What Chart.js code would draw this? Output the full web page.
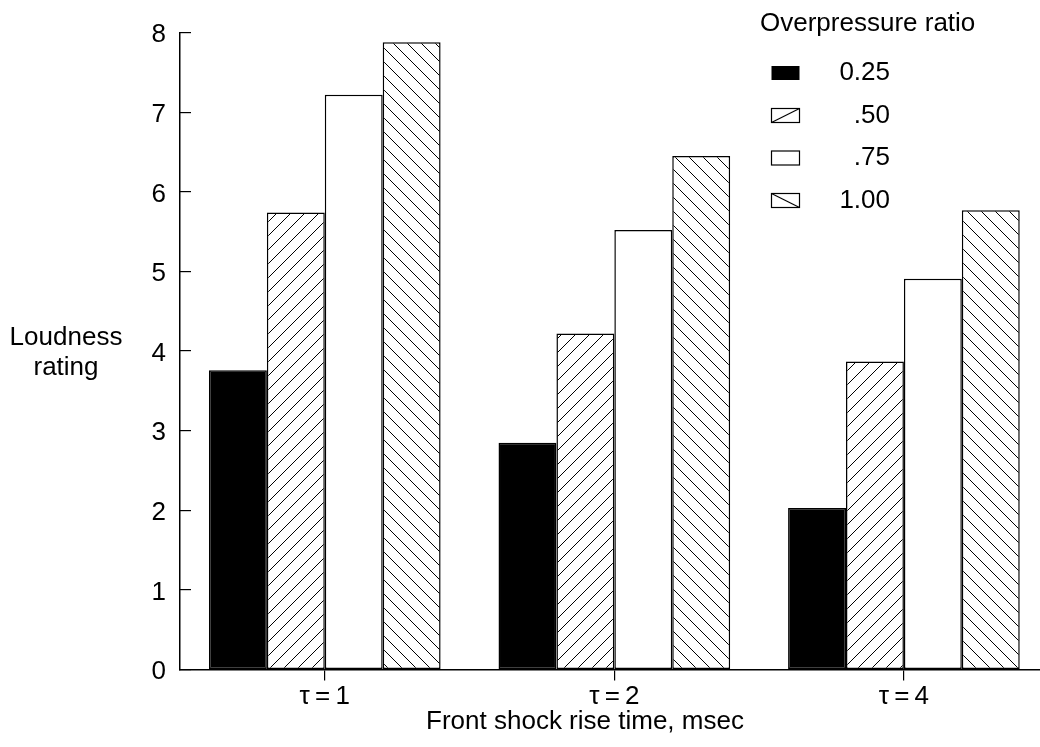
<!DOCTYPE html>
<html>
<head>
<meta charset="utf-8">
<script src="https://cdn.jsdelivr.net/npm/chart.js@4.4.1/dist/chart.umd.min.js"></script>
<style>
  html, body { margin: 0; padding: 0; background: #fff; overflow: hidden; }
  #chart { display: block; }
</style>
</head>
<body>
<canvas id="chart" width="1040" height="747"></canvas>
<script>
// data
const categories = ["τ = 1", "τ = 2", "τ = 4"];
const ratioLabels = ["0.25", ".50", ".75", "1.00"];
const ratio025 = [3.76, 2.85, 2.03];
const ratio050 = [5.74, 4.22, 3.87];
const ratio075 = [7.22, 5.52, 4.91];
const ratio100 = [7.88, 6.45, 5.77];
const yTicks = [0, 1, 2, 3, 4, 5, 6, 7, 8];
const yTitle = ["Loudness", "rating"];
const xTitle = "Front shock rise time, msec";
const legendTitle = "Overpressure ratio";

const FONT = "'Liberation Sans', Arial, Helvetica, sans-serif";
const FSIZE = 26;

function hatch(dir) {
    const s = 14;
    const c = document.createElement('canvas');
    c.width = s; c.height = s;
    const g = c.getContext('2d');
    g.fillStyle = '#fff';
    g.fillRect(0, 0, s, s);
    g.strokeStyle = '#000';
    g.lineWidth = 1;
    g.beginPath();
    for (let k = -1; k <= 1; k++) {
        if (dir === '/') { g.moveTo(k * s, s); g.lineTo(k * s + s, 0); }
        else { g.moveTo(k * s, 0); g.lineTo(k * s + s, s); }
    }
    g.stroke();
    return g.createPattern(c, 'repeat');
}

const fills = ['#000', hatch('/'), '#fff', hatch('\\')];
const marks = ['solid', '/', 'empty', '\\'];
const series = [ratio025, ratio050, ratio075, ratio100];

const datasets = series.map((vals, i) => ({
    label: ratioLabels[i],
    data: vals.map((v, j) => ({ x: j + 1, y: v })),
    backgroundColor: fills[i],
    borderColor: '#000',
    borderWidth: 1.5,
    borderSkipped: false,
    categoryPercentage: 0.8,
    barPercentage: 1.0
}));

// legend drawn over the plot, top right
const ratioLegend = {
    id: 'ratioLegend',
    afterDraw(chart) {
        const ctx = chart.ctx;
        ctx.save();
        ctx.fillStyle = '#000';
        ctx.font = `${FSIZE}px ${FONT}`;
        ctx.textBaseline = 'middle';
        ctx.textAlign = 'left';
        ctx.fillText(legendTitle, 760, 24);

        chart.data.datasets.forEach((ds, i) => {
            const cy = 73 + i * 42.5;
            const bx = 771.5, bw = 28, bh = 14, by = cy - bh / 2;
            ctx.lineWidth = 1.2;
            ctx.strokeStyle = '#000';
            if (marks[i] === 'solid') {
                ctx.fillRect(bx, by, bw, bh);
            } else {
                ctx.strokeRect(bx, by, bw, bh);
                if (marks[i] !== 'empty') {
                    ctx.beginPath();
                    if (marks[i] === '/') { ctx.moveTo(bx, by + bh); ctx.lineTo(bx + bw, by); }
                    else { ctx.moveTo(bx, by); ctx.lineTo(bx + bw, by + bh); }
                    ctx.stroke();
                }
            }
            ctx.textAlign = 'right';
            ctx.fillText(ds.label, 890, cy);
        });
        ctx.restore();
    }
};

// axis titles: horizontal y title on the left, x title under the ticks
const axisTitles = {
    id: 'axisTitles',
    afterDraw(chart) {
        const ctx = chart.ctx;
        ctx.save();
        ctx.fillStyle = '#000';
        ctx.font = `${FSIZE}px ${FONT}`;
        ctx.textAlign = 'center';
        ctx.textBaseline = 'middle';
        yTitle.forEach((t, i) => ctx.fillText(t, 66, 338 + i * 30));
        ctx.fillText(xTitle, 585, 722);
        ctx.restore();
    }
};

new Chart(document.getElementById('chart'), {
    type: 'bar',
    data: { datasets: datasets },
    options: {
        responsive: false,
        devicePixelRatio: 1,
        animation: false,
        layout: { padding: { top: 32.7, right: 0, left: 0, bottom: 0 } },
        plugins: {
            legend: { display: false },
            tooltip: { enabled: false }
        },
        scales: {
            x: {
                type: 'linear',
                min: 0.5,
                max: 3.47,
                offset: false,
                afterBuildTicks: s => { s.ticks = categories.map((c, i) => ({ value: i + 1 })); },
                afterFit: s => { s.height = 77.5; },
                grid: { offset: false, drawOnChartArea: false, tickLength: 11, color: '#000', lineWidth: 1.2 },
                border: { display: true, color: '#000', width: 1.5 },
                ticks: {
                    color: '#000',
                    font: { family: FONT, size: FSIZE },
                    padding: 1,
                    maxRotation: 0,
                    autoSkip: false,
                    callback: v => (categories[v - 1] ?? '').replace(/ /g, '\u2009')
                }
            },
            y: {
                min: 0,
                max: 8,
                afterBuildTicks: s => { s.ticks = yTicks.map(v => ({ value: v })); },
                afterFit: s => { s.width = 180; s.paddingTop = 0; s.paddingBottom = 0; },
                grid: { drawOnChartArea: false, tickLength: -11, color: '#000', lineWidth: 1.2 },
                border: { display: true, color: '#000', width: 1.5 },
                ticks: { color: '#000', font: { family: FONT, size: FSIZE }, padding: 25, labelOffset: 2.5 }
            }
        }
    },
    plugins: [ratioLegend, axisTitles]
});
</script>
</body>
</html>
